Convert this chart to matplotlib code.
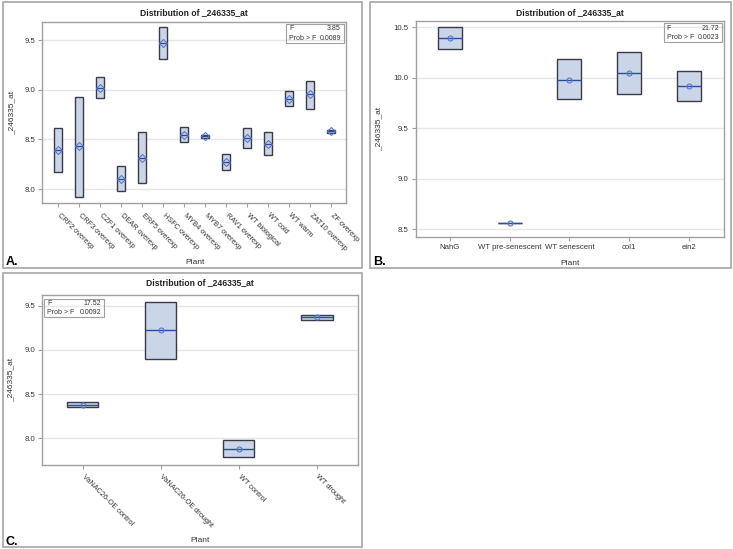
import matplotlib
matplotlib.use('Agg')
import matplotlib.pyplot as plt
from matplotlib.patches import Rectangle

plt.rcParams['font.family'] = ['Liberation Sans', 'DejaVu Sans']

# panel A data (box top, box bottom, median/mean)
plants_a = ['CRF2 overexp', 'CRF3 overexp', 'CZF1 overexp', 'DEAR overexp', 'ERF5 overexp',
            'HSFC overexp', 'MYB4 overexp', 'MYB7 overexp', 'RAV1 overexp', 'WT biological',
            'WT cold', 'WT warm', 'ZAT10 overexp', 'ZF overexp']
top_a = [8.61, 8.93, 9.13, 8.23, 8.57, 9.63, 8.62, 8.54, 8.35, 8.61, 8.57, 8.99, 9.09, 8.59]
bottom_a = [8.17, 7.92, 8.92, 7.98, 8.06, 9.31, 8.47, 8.51, 8.19, 8.41, 8.34, 8.84, 8.81, 8.56]
mid_a = [8.39, 8.43, 9.02, 8.10, 8.31, 9.47, 8.54, 8.53, 8.27, 8.51, 8.45, 8.91, 8.96, 8.58]
stats_a = ('3.85', '0.0089')

# panel B data
plants_b = ['NahG', 'WT pre-senescent', 'WT senescent', 'col1', 'ein2']
top_b = [10.50, 8.56, 10.18, 10.25, 10.07]
bottom_b = [10.28, 8.56, 9.79, 9.84, 9.77]
mid_b = [10.39, 8.56, 9.98, 10.05, 9.92]
stats_b = ('21.72', '0.0023')

# panel C data
plants_c = ['VaNAC26-OE control', 'VaNAC26-OE drought', 'WT control', 'WT drought']
top_c = [8.41, 9.54, 7.98, 9.40]
bottom_c = [8.35, 8.90, 7.79, 9.34]
mid_c = [8.38, 9.22, 7.88, 9.37]
stats_c = ('17.52', '0.0092')

W, H = 733, 549
fig = plt.figure(figsize=(W / 100, H / 100), dpi=100)
fig.patch.set_facecolor('white')


def px_axes(left, right, top, bottom):
    return fig.add_axes([left / W, 1 - bottom / H, (right - left) / W, (bottom - top) / H])


def frame(left, right, top, bottom):
    fig.patches.append(Rectangle((left / W, 1 - bottom / H), (right - left) / W, (bottom - top) / H,
                                 transform=fig.transFigure, fill=False, edgecolor='#a6a6a6', lw=1.2))


def panel(ax, names, tops, bottoms, mids, marker, yticks, ylim, xlim, rotate):
    x = list(range(len(names)))
    heights = [t - b for t, b in zip(tops, bottoms)]
    for yt in yticks:
        ax.axhline(yt, color='#e6e6e6', lw=1, zorder=0)
    ax.bar(x, heights, bottom=bottoms, width=0.4, color='#cbd5e8', edgecolor='#3b3b48', lw=1, zorder=2)
    ax.hlines(mids, [i - 0.2 for i in x], [i + 0.2 for i in x], color='#2b4c9e', lw=1, zorder=3)
    ax.plot(x, mids, linestyle='none', marker=marker, ms=4 if marker == 'D' else 3.6,
            mfc='none', mec='#5877d0', mew=0.8, zorder=4)
    ax.set_xlim(*xlim)
    ax.set_ylim(*ylim)
    ax.set_yticks(yticks)
    ax.set_yticklabels(['%.1f' % v for v in yticks])
    ax.set_xticks(x)
    if rotate:
        ax.set_xticklabels(names, rotation=-45, ha='left', va='center', rotation_mode='anchor')
    else:
        ax.set_xticklabels(names)
    for s in ax.spines.values():
        s.set_color('#a0a0a0')
        s.set_linewidth(1)
    ax.tick_params(axis='both', labelsize=5.6, colors='#a0a0a0', labelcolor='#333333',
                   length=3, width=0.8, pad=2)
    if rotate:
        ax.tick_params(axis='x', pad=5, labelsize=5.3)
    ax.set_xlabel('Plant', fontsize=6, color='#333333')
    ax.set_ylabel('_246335_at', fontsize=6, color='#333333')


def inset(ax, x0, x1, y0, y1, f, p):
    ax.add_patch(Rectangle((x0, y0), x1 - x0, y1 - y0, transform=ax.transAxes, fill=False,
                           edgecolor='#a0a0a0', lw=0.8, zorder=5))
    ym = (y0 + y1) / 2
    pad = 0.01
    kw = dict(transform=ax.transAxes, fontsize=5, color='#333333', zorder=6)
    ax.text(x0 + pad, (y1 + ym) / 2, 'F', ha='left', va='center', **kw)
    ax.text(x1 - pad, (y1 + ym) / 2, f, ha='right', va='center', **kw)
    ax.text(x0 + pad, (y0 + ym) / 2, 'Prob > F', ha='left', va='center', **kw)
    ax.text(x1 - pad, (y0 + ym) / 2, p, ha='right', va='center', **kw)


# outer frames of the three panels
frame(3, 362, 2, 268)
frame(370, 731, 2, 268)
frame(3, 362, 273, 547)

title = 'Distribution of _246335_at'

# A
ax_a = px_axes(42.3, 346, 21.7, 203.3)
panel(ax_a, plants_a, top_a, bottom_a, mid_a, 'D', [8.0, 8.5, 9.0, 9.5], (7.856, 9.685), (-0.76, 13.7), True)
ax_a.text(0.5, 1.05, title, transform=ax_a.transAxes, ha='center', va='center',
          fontsize=6.2, fontweight='bold', color='#222222')
ax_a.xaxis.set_label_coords(0.503, -0.307)
ax_a.yaxis.set_label_coords(-0.09, 0.5)
inset(ax_a, 0.802, 0.993, 0.884, 0.987, *stats_a)

# B
ax_b = px_axes(415.7, 724.3, 20.8, 236.7)
panel(ax_b, plants_b, top_b, bottom_b, mid_b, 'o', [8.5, 9.0, 9.5, 10.0, 10.5], (8.427, 10.562), (-0.57, 4.59), False)
ax_b.text(0.5, 1.039, title, transform=ax_b.transAxes, ha='center', va='center',
          fontsize=6.2, fontweight='bold', color='#222222')
ax_b.xaxis.set_label_coords(0.5, -0.108)
ax_b.yaxis.set_label_coords(-0.109, 0.5)
inset(ax_b, 0.803, 0.9935, 0.902, 0.9875, *stats_b)

# C
ax_c = px_axes(42, 357.5, 295, 464.7)
panel(ax_c, plants_c, top_c, bottom_c, mid_c, 'o', [8.0, 8.5, 9.0, 9.5], (7.70, 9.621), (-0.52, 3.52), True)
ax_c.text(0.5, 1.072, title, transform=ax_c.transAxes, ha='center', va='center',
          fontsize=6.2, fontweight='bold', color='#222222')
ax_c.xaxis.set_label_coords(0.5, -0.424)
ax_c.yaxis.set_label_coords(-0.086, 0.5)
inset(ax_c, 0.006, 0.197, 0.872, 0.975, *stats_c)

# panel letters
fig.text(6 / W, 1 - 262 / H, 'A.', fontsize=9, fontweight='bold', va='center', ha='left')
fig.text(373 / W, 1 - 262 / H, 'B.', fontsize=9, fontweight='bold', va='center', ha='left')
fig.text(5 / W, 1 - 541.7 / H, 'C.', fontsize=9, fontweight='bold', va='center', ha='left')

fig.savefig('out.png', dpi=100)
